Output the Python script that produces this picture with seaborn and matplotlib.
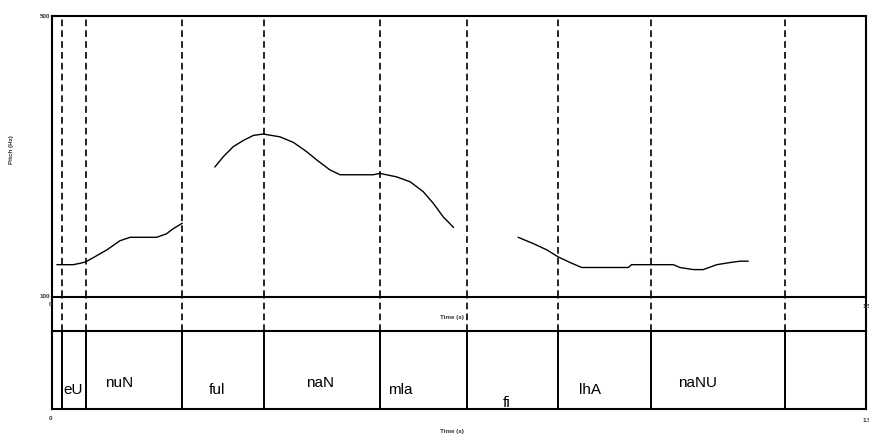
import matplotlib
matplotlib.use("Agg")
import matplotlib.pyplot as plt
import seaborn as sns
import pandas as pd

# Pitch contour, three voiced stretches (time in s, F0 in Hz)
seg1_t = [0.009, 0.039, 0.052, 0.062, 0.076, 0.101, 0.125, 0.144, 0.193, 0.211, 0.223, 0.240]
seg1_f = [146, 146, 148, 150, 156, 167, 180, 185, 185, 190, 197, 205]
seg2_t = [0.300, 0.316, 0.334, 0.353, 0.371, 0.389, 0.420, 0.445, 0.469, 0.488, 0.512,
          0.531, 0.592, 0.604, 0.635, 0.660, 0.684, 0.703, 0.721, 0.740]
seg2_f = [285, 300, 314, 323, 330, 332, 328, 320, 307, 295, 281,
          274, 274, 276, 271, 264, 250, 233, 214, 199]
seg3_t = [0.859, 0.887, 0.912, 0.933, 0.955, 0.976, 1.062, 1.068, 1.145, 1.157, 1.182,
          1.200, 1.225, 1.249, 1.268, 1.283]
seg3_f = [185, 176, 167, 157, 149, 142, 142, 146, 146, 142, 139,
          139, 146, 149, 151, 151]

# Syllable boundaries (s) and interval labels of the annotation tier
boundaries = [0.018, 0.063, 0.240, 0.391, 0.604, 0.764, 0.932, 1.103, 1.350]
syllables = ["eU", "nuN", "ful", "naN", "mla", "fi", "lhA", "naNU"]

T_END = 1.5
F_MIN, F_MAX = 100, 500

# label anchor positions inside the tier (time, height fraction)
label_x = [0.0387, 0.1235, 0.304, 0.494, 0.641, 0.837, 0.991, 1.189]
label_y = [0.25, 0.33, 0.24, 0.33, 0.24, 0.08, 0.24, 0.33]

frames = []
for k, (t, f) in enumerate([(seg1_t, seg1_f), (seg2_t, seg2_f), (seg3_t, seg3_f)]):
    frames.append(pd.DataFrame({"time": t, "f0": f, "seg": k}))
contour = pd.concat(frames, ignore_index=True)

sns.set_style("white")
plt.rcParams["font.family"] = ["Liberation Sans", "DejaVu Sans"]

W, H = 870, 434
fig = plt.figure(figsize=(W / 100, H / 100), dpi=100)

def px_axes(x0, y0, x1, y1):
    return fig.add_axes([x0 / W, 1 - y1 / H, (x1 - x0) / W, (y1 - y0) / H])

XL, XR = 52, 866
ax_p = px_axes(XL, 16, XR, 297)
ax_g = px_axes(XL, 297, XR, 331)
ax_t = px_axes(XL, 331, XR, 409)

frame_lw = 1.5
dash = (0, (4, 2.5))

# pitch panel
sns.lineplot(data=contour, x="time", y="f0", units="seg", estimator=None,
             color="black", linewidth=1.0, ax=ax_p, legend=False)
ax_p.set_xlim(0, T_END)
ax_p.set_ylim(F_MIN, F_MAX)
for b in boundaries:
    ax_p.axvline(b, color="black", lw=1.2, linestyle=dash)

# gap strip between the panels
ax_g.set_xlim(0, T_END)
ax_g.set_ylim(0, 1)
for b in boundaries:
    ax_g.axvline(b, color="black", lw=1.2, linestyle=dash)

# annotation tier
ax_t.set_xlim(0, T_END)
ax_t.set_ylim(0, 1)
for b in boundaries:
    ax_t.axvline(b, color="black", lw=1.4)
for s, lx, ly in zip(syllables, label_x, label_y):
    ax_t.text(lx, ly, s, ha="center", va="center", fontsize=11, color="black")

for ax in (ax_p, ax_g, ax_t):
    ax.set_xticks([])
    ax.set_yticks([])
    ax.set_xlabel("")
    ax.set_ylabel("")
    ax.set_facecolor("none")
    for sp in ax.spines.values():
        sp.set_color("black")
        sp.set_linewidth(frame_lw)
ax_g.spines["top"].set_visible(False)
ax_g.spines["bottom"].set_visible(False)

small = dict(fontsize=4.5, fontweight="bold", color="#333333")
fig.text(50 / W, 1 - 16 / H, str(F_MAX), ha="right", va="center", **small)
fig.text(50 / W, 1 - 296 / H, str(F_MIN), ha="right", va="center", **small)
fig.text(12 / W, 1 - 150 / H, "Pitch (Hz)", rotation=90, ha="center", va="center", **small)
fig.text(51 / W, 1 - 305 / H, "0", ha="center", va="center", **small)
fig.text(51 / W, 1 - 419 / H, "0", ha="center", va="center", **small)
fig.text(863 / W, 1 - 306 / H, "1.5", ha="left", va="center", **small)
fig.text(863 / W, 1 - 420 / H, "1.5", ha="left", va="center", **small)
fig.text(452 / W, 1 - 318 / H, "Time (s)", ha="center", va="center", **small)
fig.text(452 / W, 1 - 431 / H, "Time (s)", ha="center", va="center", **small)

fig.savefig("out.png", dpi=100)
